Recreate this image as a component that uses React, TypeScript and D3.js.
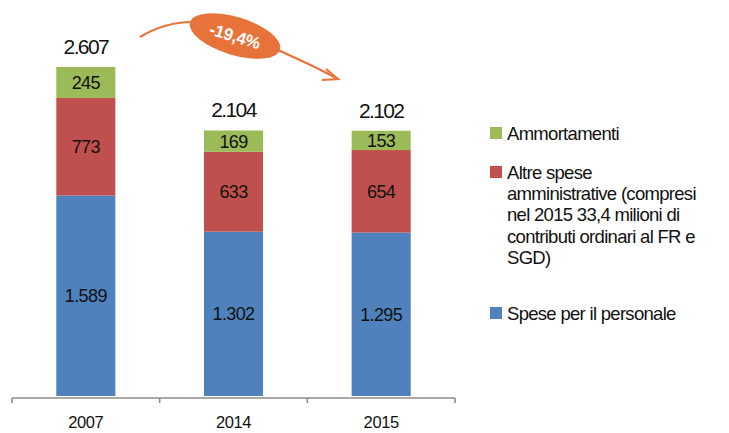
import React from "react";
import * as d3 from "d3";

const years = ["2007", "2014", "2015"];
const personale = [1589, 1302, 1295];
const altreSpese = [773, 633, 654];
const ammortamenti = [245, 169, 153];
const totals = ["2.607", "2.104", "2.102"];
const variation = "-19,4%";

const seriesNames = ["Spese per il personale", "Altre spese", "Ammortamenti"];
const colors = ["#4F81BD", "#C0504D", "#9BBB59"];
const legendItems = [
  { color: "#9BBB59", lines: ["Ammortamenti"] },
  {
    color: "#C0504D",
    lines: [
      "Altre spese",
      "amministrative (compresi",
      "nel 2015 33,4 milioni di",
      "contributi ordinari al FR e",
      "SGD)",
    ],
  },
  { color: "#4F81BD", lines: ["Spese per il personale"] },
];

const fmt = (v: number) => (v >= 1000 ? d3.format(",")(v).replace(",", ".") : String(v));

export default function App() {
  const width = 729,
    height = 433,
    baseY = 396;

  const x = d3
    .scaleBand<string>()
    .domain(years)
    .range([12, 455])
    .paddingInner(0.6)
    .paddingOuter(0.3);

  const y = d3.scaleLinear().domain([0, 2607]).range([baseY, 67]);

  const table = years.map((yr, i) => ({
    year: yr,
    personale: personale[i],
    altre: altreSpese[i],
    amm: ammortamenti[i],
  }));
  const stacked = d3.stack<any>().keys(["personale", "altre", "amm"])(table);

  // category boundaries on the axis
  const tickXs = [12, ...years.map((yr) => (x(yr) as number) + x.bandwidth() + (x.step() * 0.6) / 2)];

  const arrowPath = "M140,37 C155,28 172,22 192,22 M278,50 C300,60 318,68 336,78";
  const orange = "#E8733A";

  return (
    <svg
      width={width}
      height={height}
      style={{ position: "absolute", left: 0, top: 0, fontFamily: "'Liberation Sans', Arial, sans-serif" }}
    >
      <rect width={width} height={height} fill="#fff" />
      {stacked.map((layer, li) => (
        <g key={seriesNames[li]} fill={colors[li]}>
          {layer.map((d, i) => (
            <g key={years[i]}>
              <rect
                x={x(years[i])}
                y={y(d[1])}
                width={x.bandwidth()}
                height={y(d[0]) - y(d[1])}
              />
              <text
                x={(x(years[i]) as number) + x.bandwidth() / 2}
                y={(y(d[0]) + y(d[1])) / 2}
                dy="0.36em"
                textAnchor="middle"
                fontSize={18}
                letterSpacing={-0.6}
                fill="#111"
              >
                {fmt(d[1] - d[0])}
              </text>
            </g>
          ))}
        </g>
      ))}
      {years.map((yr, i) => (
        <text
          key={yr}
          x={(x(yr) as number) + x.bandwidth() / 2}
          y={y(personale[i] + altreSpese[i] + ammortamenti[i]) - 13}
          textAnchor="middle"
          fontSize={21}
          letterSpacing={-1.6}
          fill="#111"
        >
          {totals[i]}
        </text>
      ))}
      <line x1={12} x2={455} y1={398} y2={398} stroke="#8c8c8c" strokeWidth={1.6} />
      {tickXs.map((tx, i) => (
        <line key={i} x1={tx} x2={tx} y1={398} y2={403} stroke="#8c8c8c" strokeWidth={1.6} />
      ))}
      {years.map((yr) => (
        <text
          key={yr}
          x={(x(yr) as number) + x.bandwidth() / 2}
          y={422}
          dy="0.35em"
          textAnchor="middle"
          fontSize={16.5}
          letterSpacing={-0.4}
          fill="#111"
        >
          {yr}
        </text>
      ))}
      <path d={arrowPath} fill="none" stroke={orange} strokeWidth={2.2} />
      <path d="M326,69 L338,79 L322,80" fill="none" stroke={orange} strokeWidth={2.2} strokeLinejoin="miter" />
      <ellipse cx={235} cy={36} rx={47} ry={19} fill={orange} transform="rotate(17 235 36)" />
      <text
        x={235}
        y={36}
        dy="0.36em"
        textAnchor="middle"
        fontSize={17}
        fontWeight="bold"
        letterSpacing={-0.3}
        fill="#fff"
        transform="rotate(17 235 36)"
      >
        {variation}
      </text>
      {legendItems.map((item, i) => {
        const ys = [133, 172, 313][i];
        return (
          <g key={i}>
            <rect x={490} y={ys - 6} width={12} height={12} fill={item.color} />
            {item.lines.map((ln, j) => (
              <text
                key={j}
                x={507}
                y={ys + j * 21.3}
                dy="0.36em"
                fontSize={18.5}
                letterSpacing={-0.7}
                fill="#111"
              >
                {ln}
              </text>
            ))}
          </g>
        );
      })}
    </svg>
  );
}
